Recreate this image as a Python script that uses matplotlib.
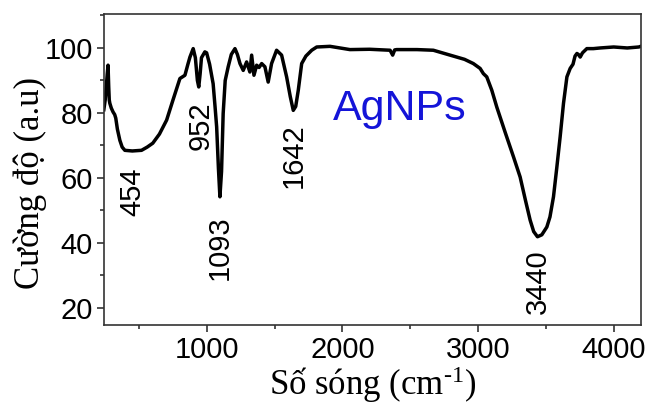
import matplotlib
matplotlib.use("Agg")
import matplotlib.pyplot as plt
from matplotlib.ticker import MultipleLocator

wavenumber = [240, 250, 258, 265, 271, 276, 280, 284, 295, 308, 320, 328, 340, 358, 375, 395,
              450, 518, 560, 601, 650, 703, 750, 801, 838, 860, 875, 899, 915, 930, 940, 950,
              960, 985, 998, 1020, 1046, 1060, 1072, 1085, 1096, 1108, 1120, 1135, 1157, 1180,
              1207, 1225, 1244, 1268, 1293, 1317, 1330, 1347, 1367, 1385, 1404, 1428, 1452,
              1477, 1514, 1551, 1588, 1615, 1637, 1655, 1674, 1699, 1730, 1773, 1810, 1908,
              2055, 2200, 2351, 2370, 2385, 2400, 2550, 2670, 2793, 2900, 2965, 3015, 3039,
              3064, 3101, 3138, 3200, 3261, 3310, 3350, 3384, 3410, 3438, 3470, 3507, 3530,
              3556, 3580, 3605, 3630, 3655, 3679, 3700, 3715, 3729, 3740, 3753, 3770, 3802,
              3850, 3900, 4000, 4100, 4185, 4200]
intensity = [81, 84, 88, 92, 94.7, 88, 84, 83, 81.5, 80.3, 79.5, 78.4, 75, 71.6, 69.5, 68.5,
             68.3, 68.5, 69.5, 70.7, 73.5, 77.8, 84, 90.6, 91.6, 95, 97.2, 99.8, 97, 90, 88, 92,
             97, 98.8, 98.5, 95, 89, 82, 75.7, 63, 54.2, 62, 79.8, 90, 94.2, 98,
             99.8, 98, 95.2, 93.1, 95.7, 92.6, 97.8, 91.6, 94.7, 94, 95.2, 94.2, 89.5,
             95.2, 99.3, 97.8, 91.1, 85, 80.8, 82, 87, 95.2, 97.5, 99.3, 100.3, 100.5,
             99.5, 99.6, 99.3, 97.8, 99.4, 99.5, 99.5, 99.3, 97.8, 96.5, 95.2, 93.7, 92.1,
             91.1, 87, 81.8, 74, 66.5, 60.3, 53, 47, 43.5, 41.9, 42.5, 44.9, 48,
             54.2, 63, 72.6, 83, 91.1, 93.7, 95, 97.5, 98.3, 98, 97.2, 98.5, 99.8,
             99.8, 100, 100.3, 100, 100.3, 100.5]

peak_labels = ["454", "952", "1093", "1642", "3440"]
peak_x = [454, 952, 1093, 1642, 3440]
peak_label_y = [55.6, 76.2, 38.5, 67.0, 28.2]

sample_name = "AgNPs"
x_ticks = [1000, 2000, 3000, 4000]
y_ticks = [20, 40, 60, 80, 100]

plt.rcParams['mathtext.fontset'] = 'custom'
plt.rcParams['mathtext.rm'] = 'Liberation Serif'
plt.rcParams['mathtext.it'] = 'Liberation Serif:italic'

fig = plt.figure(figsize=(6.49, 4.05), dpi=100)
ax = fig.add_axes([0.160, 0.198, 0.828, 0.767])
ax.plot(wavenumber, intensity, color='black', lw=2.5, solid_joinstyle='round')

ax.set_xlim(240, 4203)
ax.set_ylim(14.8, 110.4)
ax.set_xticks(x_ticks)
ax.set_yticks(y_ticks)
ax.xaxis.set_minor_locator(MultipleLocator(500))
ax.yaxis.set_minor_locator(MultipleLocator(10))
ax.tick_params(which='both', direction='out', top=False, right=False, color='#333333', width=1.2)
ax.tick_params(which='major', length=5, labelsize=21, pad=3)
ax.tick_params(which='minor', length=3)
for lab in ax.get_xticklabels() + ax.get_yticklabels():
    lab.set_fontfamily('Liberation Sans')
for s in ax.spines.values():
    s.set_linewidth(1.2)
    s.set_color('#333333')

for t, px, py in zip(peak_labels, peak_x, peak_label_y):
    ax.text(px, py, t, rotation=90, ha='center', va='center', fontsize=21,
            family='Liberation Sans')

ax.text(1930, 77.8, sample_name, ha='left', va='baseline', fontsize=31,
        family='Liberation Sans', color='#1414d8')

ax.set_xlabel('Số sóng (cm$^{\\mathrm{\u2010}\\mathrm{1}}$)', fontsize=25,
              family='Liberation Serif', labelpad=0)
ax.set_ylabel('Cường độ (a.u)', fontsize=25, family='Liberation Serif')
ax.yaxis.set_label_coords(-0.105, 0.457)

fig.savefig('out.png', dpi=100)
